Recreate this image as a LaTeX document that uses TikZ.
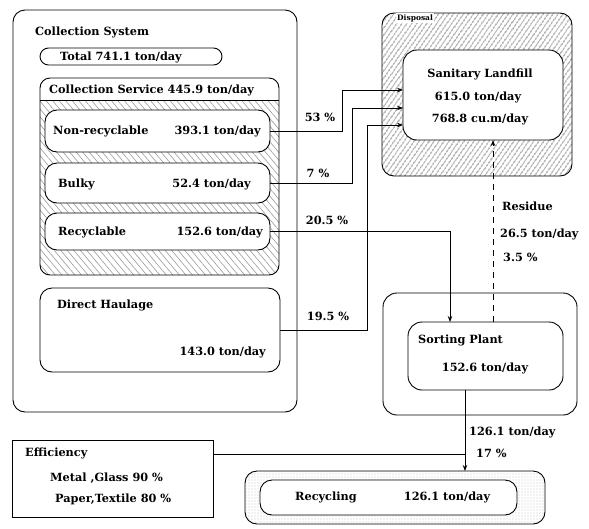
\documentclass[tikz,border=0pt]{standalone}
\usepackage{fontspec}
\setmainfont{DejaVu Serif}
\usetikzlibrary{arrows.meta,patterns,patterns.meta}
\begin{document}
\begin{tikzpicture}[x=1pt,y=-1pt,
  box/.style={draw,line width=0.9pt,rounded corners=12pt,inner sep=0pt,outer sep=0pt,anchor=north west},
  txt/.style={font=\bfseries\fontsize{11.3}{13}\selectfont,inner sep=0pt},
  small/.style={font=\bfseries\fontsize{7.5}{9}\selectfont,inner sep=0pt},
  conn/.style={line width=0.8pt},
  arr/.style={conn,-{Stealth[length=6pt,width=4.5pt]}},
  resid/.style={dash pattern=on 6pt off 5pt}]
\useasboundingbox (0,0) rectangle (589,528);

% Collection system
\node[box,minimum width=284pt,minimum height=402pt] (cs) at (13,10) {};
\node[txt,anchor=west] (cst) at (35,32) {Collection System};
\node[box,rounded corners=8.5pt,minimum width=182pt,minimum height=17pt] (tot) at (40,48) {};
\node[txt] (tott) at (121,57) {Total 741.1 ton/day};

% Collection service
\begin{scope}
  \clip[rounded corners=10pt] (40,78) rectangle (279,275);
  \fill[pattern={Lines[angle=-50,distance=5pt,line width=0.6pt]},pattern color=black!40] (40,100) rectangle (279,275);
\end{scope}
\node[box,rounded corners=10pt,minimum width=239pt,minimum height=197pt] (svc) at (40,78) {};
\draw[conn] (svc.west |- 0,100) -- (svc.east |- 0,100);
\node[txt,anchor=west] (svct) at (49,90) {Collection Service 445.9 ton/day};

\node[box,fill=white,minimum width=225pt,minimum height=42pt] (nr) at (45,110) {};
\node[txt,anchor=west] (nrt) at (53,131) {Non-recyclable};
\node[txt,anchor=east] (nrv) at (261,131) {393.1 ton/day};

\node[box,fill=white,minimum width=225pt,minimum height=40pt] (bk) at (45,163) {};
\node[txt,anchor=west] (bkt) at (58,184) {Bulky};
\node[txt,anchor=east] (bkv) at (251,184) {52.4 ton/day};

\node[box,fill=white,minimum width=225pt,minimum height=37pt] (rc) at (45,213) {};
\node[txt,anchor=west] (rct) at (58,232) {Recyclable};
\node[txt,anchor=east] (rcv) at (263,232) {152.6 ton/day};

\node[box,minimum width=240pt,minimum height=84pt] (dh) at (40,288) {};
\node[txt,anchor=west] (dht) at (57,305) {Direct Haulage};
\node[txt,anchor=east] (dhv) at (266,352) {143.0 ton/day};

% Disposal
\node[box,pattern={Lines[angle=55,distance=4pt,line width=0.8pt]},pattern color=black!80,minimum width=190pt,minimum height=163pt] (disp) at (382,13) {};
\node[small,anchor=west,fill=white,inner sep=1pt] (dispt) at (396,18) {Disposal};
\node[box,fill=white,rounded corners=14pt,minimum width=160pt,minimum height=90pt] (lf) at (403,50) {};
\node[txt] (lft) at (480,74) {Sanitary Landfill};
\node[txt] (lfv) at (478,97) {615.0 ton/day};
\node[txt] (lfw) at (480,119) {768.8 cu.m/day};

% Sorting plant
\node[box,rounded corners=14pt,minimum width=194pt,minimum height=122pt] (spo) at (383,293) {};
\node[box,rounded corners=14pt,minimum width=155pt,minimum height=68pt] (spi) at (408,322) {};
\node[txt,anchor=west] (spt) at (418,340) {Sorting Plant};
\node[txt] (spv) at (485,368) {152.6 ton/day};

% Recycling
\node[box,pattern={Dots[distance=3pt,radius=0.45pt]},pattern color=black!60,minimum width=300pt,minimum height=53pt] (rco) at (245,471) {};
\node[box,fill=white,minimum width=257pt,minimum height=35pt] (rci) at (260,480) {};
\node[txt] (rcit) at (326,497) {Recycling};
\node[txt] (rciv) at (447,497) {126.1 ton/day};

% Efficiency
\node[draw,line width=0.9pt,anchor=north west,inner sep=0pt,outer sep=0pt,minimum width=201pt,minimum height=77pt] (eff) at (12,440) {};
\node[txt,anchor=west] (efft) at (25,453) {Efficiency};
\node[txt,anchor=west] (effa) at (50,478) {Metal ,Glass 90 \%};
\node[txt,anchor=west] (effb) at (55,499) {Paper,Textile 80 \%};

% Connectors
\draw[arr] (nr.east) -- ++(72,0) |- (lf.west |- 0,90);
\draw[arr] (bk.east) -- ++(82,0) |- (lf.west |- 0,108);
\draw[arr] (dh.east) -- ++(87,0) |- (lf.west |- 0,125);
\draw[arr] (rc.east) -| (spi.north -| 450,0);
\draw[arr,resid] (spi.north -| 493,0) -- (lf.south -| 493,0);
\draw[arr] (spi.south -| 465,0) -- (rco.north -| 465,0);
\coordinate (j) at (465,454);
\draw[conn] (eff.east |- j) -- (j);

% Connector labels
\node[txt] (l53) at (320,117) {53 \%};
\node[txt] (l7) at (318,173) {7 \%};
\node[txt] (l205) at (327,220) {20.5 \%};
\node[txt] (l195) at (328,316) {19.5 \%};
\node[txt,anchor=west] (lrs) at (502,206) {Residue};
\node[txt,anchor=west] (lrv) at (500,234) {26.5 ton/day};
\node[txt,anchor=west] (lrp) at (503,257) {3.5 \%};
\node[txt,anchor=west] (lsv) at (469,432) {126.1 ton/day};
\node[txt,anchor=west] (lsp) at (476,453) {17 \%};
\end{tikzpicture}
\end{document}
